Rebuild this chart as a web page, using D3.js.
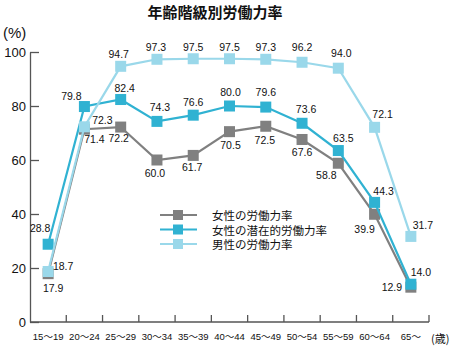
<!DOCTYPE html>
<html>
<head>
<meta charset="utf-8">
<script src="https://cdn.jsdelivr.net/npm/d3@7"></script>
<style>
  body { margin: 0; background: #fff; }
  svg text { font-family: "Liberation Sans", Arial, "Noto Sans CJK JP", sans-serif; fill: #111; }
  .jp { font-family: "Noto Sans CJK JP", sans-serif; }
  .axis path, .axis line { stroke: #555; stroke-width: 1.3; }
</style>
</head>
<body>
<div id="chart"></div>
<script>
// age groups
var ages = ['15〜19', '20〜24', '25〜29', '30〜34', '35〜39', '40〜44', '45〜49', '50〜54', '55〜59', '60〜64', '65〜'];

// labour force participation rates (%)
var women = [17.9, 71.4, 72.2, 60.0, 61.7, 70.5, 72.5, 67.6, 58.8, 39.9, 12.9];
var womenPotential = [28.8, 79.8, 82.4, 74.3, 76.6, 80.0, 79.6, 73.6, 63.5, 44.3, 14.0];
var men = [18.7, 72.3, 94.7, 97.3, 97.5, 97.5, 97.3, 96.2, 94.0, 72.1, 31.7];

var seriesNames = ['女性の労働力率', '女性の潜在的労働力率', '男性の労働力率'];
var yTicks = [0, 20, 40, 60, 80, 100];

// label offsets from each point (dx, dy)
var labelOffsets = [
    [[5, 14], [10, 10], [-2, 11], [-2, 13], [-1, 12], [1, 13], [-1, 14], [0, 13], [-12, 12], [-10, 15], [-19, 0]],
    [[-8, -16], [-13, -11], [4, -12], [3, -14], [0, -13], [1, -14], [0, -15], [4, -14], [5, -13], [9, -11], [10, -12]],
    [[15, -6], [18, -7], [-2, -12], [-1, -12], [0, -12], [0, -12], [0, -12], [0, -15], [3, -15], [8, -13], [12, -11]]
];
var colors = ['#808080', '#30b2d2', '#9ad8ea'];

var width = 451, height = 353;
var margin = { left: 30, right: 429, top: 52, bottom: 322 };

var svg = d3.select('#chart')
    .append('svg')
    .attr('width', width)
    .attr('height', height);

var x = d3.scaleBand()
    .domain(ages)
    .range([margin.left, margin.right]);

var y = d3.scaleLinear()
    .domain([0, 100])
    .range([margin.bottom, margin.top]);

// title
svg.append('text')
    .attr('class', 'jp')
    .attr('x', 215)
    .attr('y', 18)
    .attr('text-anchor', 'middle')
    .style('font-size', '15px')
    .style('font-weight', 'bold')
    .text('年齢階級別労働力率');

svg.append('text')
    .attr('x', 3)
    .attr('y', 38)
    .style('font-size', '15px')
    .text('(%)');

// y axis
var yAxis = d3.axisLeft(y)
    .tickValues(yTicks)
    .tickSizeInner(-9)
    .tickSizeOuter(0)
    .tickPadding(4);

svg.append('g')
    .attr('class', 'axis y-axis')
    .attr('transform', 'translate(' + margin.left + ',0)')
    .call(yAxis)
    .call(function(g) {
        g.selectAll('text').style('font-size', '13px').attr('fill', '#111');
    });

// x axis: labels centred on bands
var xAxis = d3.axisBottom(x)
    .tickSize(0)
    .tickPadding(11);

svg.append('g')
    .attr('class', 'axis x-axis')
    .attr('transform', 'translate(0,' + margin.bottom + ')')
    .call(xAxis)
    .call(function(g) {
        g.select('.domain').attr('d', 'M' + margin.left + ',0H' + margin.right);
        g.selectAll('text').style('font-size', '9.5px').attr('fill', '#111');
    });

// band boundary ticks pointing up
svg.append('g')
    .attr('class', 'axis')
    .selectAll('line')
    .data(ages)
    .enter()
    .append('line')
    .attr('x1', function(d) { return x(d) + x.bandwidth(); })
    .attr('x2', function(d) { return x(d) + x.bandwidth(); })
    .attr('y1', margin.bottom)
    .attr('y2', margin.bottom - 7);

svg.append('text')
    .attr('class', 'jp')
    .attr('x', 431)
    .attr('y', 343)
    .style('font-size', '11px')
    .text('(歳)');

// series
var allSeries = [women, womenPotential, men];

var line = d3.line()
    .x(function(d, i) { return x(ages[i]) + x.bandwidth() / 2; })
    .y(function(d) { return y(d); });

var marker = 11;

allSeries.forEach(function(values, s) {
    var g = svg.append('g').attr('class', 'series');

    g.append('path')
        .datum(values)
        .attr('fill', 'none')
        .attr('stroke', colors[s])
        .attr('stroke-width', 2.2)
        .attr('d', line);

    g.selectAll('rect')
        .data(values)
        .enter()
        .append('rect')
        .attr('x', function(d, i) { return x(ages[i]) + x.bandwidth() / 2 - marker / 2; })
        .attr('y', function(d) { return y(d) - marker / 2; })
        .attr('width', marker)
        .attr('height', marker)
        .attr('fill', colors[s]);
});

// value labels drawn last so they sit above the lines
allSeries.forEach(function(values, s) {
    svg.append('g')
        .selectAll('text')
        .data(values)
        .enter()
        .append('text')
        .attr('x', function(d, i) { return x(ages[i]) + x.bandwidth() / 2 + labelOffsets[s][i][0]; })
        .attr('y', function(d, i) { return y(d) + labelOffsets[s][i][1]; })
        .attr('text-anchor', 'middle')
        .attr('dominant-baseline', 'central')
        .style('font-size', '10.5px')
        .text(function(d) { return d3.format('.1f')(d); });
});

// legend
var legend = svg.append('g')
    .attr('transform', 'translate(160,215)');

var items = legend.selectAll('g')
    .data(seriesNames)
    .enter()
    .append('g')
    .attr('transform', function(d, i) { return 'translate(0,' + (i * 14.5) + ')'; });

items.append('line')
    .attr('x1', 0)
    .attr('x2', 37)
    .attr('stroke', function(d, i) { return colors[i]; })
    .attr('stroke-width', 2.2);

items.append('rect')
    .attr('x', 13)
    .attr('y', -5)
    .attr('width', 10)
    .attr('height', 10)
    .attr('fill', function(d, i) { return colors[i]; });

items.append('text')
    .attr('class', 'jp')
    .attr('x', 52)
    .attr('dominant-baseline', 'central')
    .style('font-size', '11.5px')
    .text(function(d) { return d; });
</script>
</body>
</html>
